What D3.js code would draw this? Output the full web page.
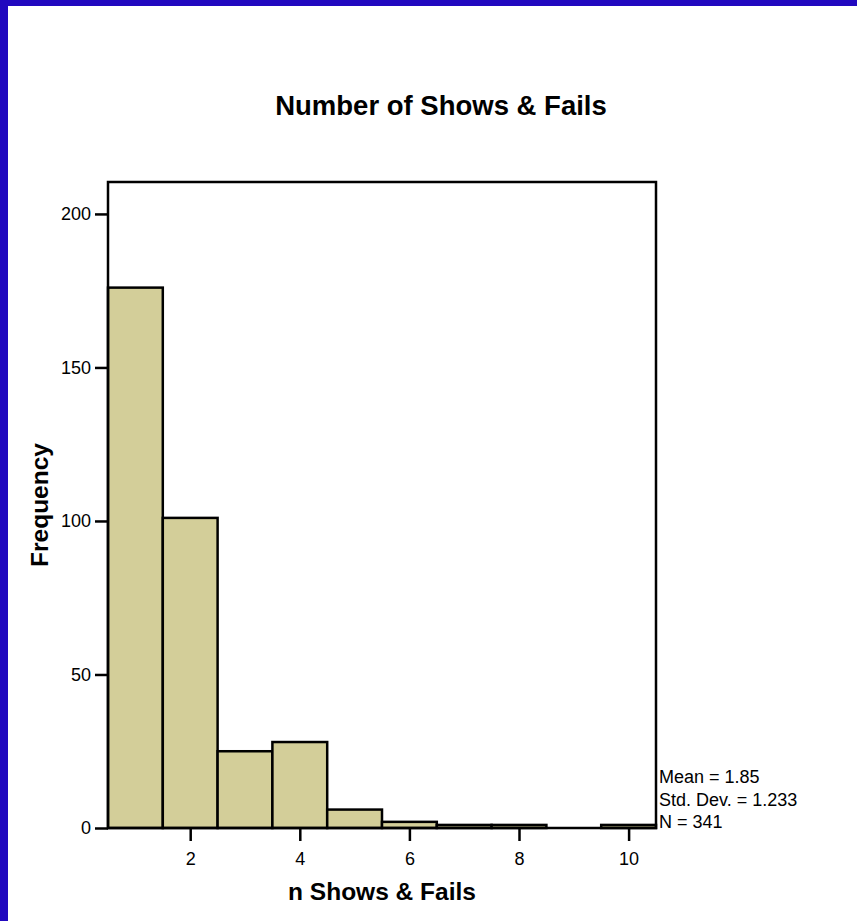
<!DOCTYPE html>
<html>
<head>
<meta charset="utf-8">
<script src="https://cdn.jsdelivr.net/npm/d3@7"></script>
<style>
  body { margin: 0; background: #fff; }
  text { font-family: "Liberation Sans", Arial, sans-serif; fill: #000; }
</style>
</head>
<body>
<svg width="857" height="921"></svg>
<script>
// histogram bins (midpoints) and counts
var binMids = [1, 2, 3, 4, 5, 6, 7, 8, 9, 10];
var counts = [176, 101, 25, 28, 6, 2, 1, 1, 0, 1];
var xTicks = [2, 4, 6, 8, 10];
var yTicks = [0, 50, 100, 150, 200];
var stats = ["Mean = 1.85", "Std. Dev. = 1.233", "N = 341"];

var svg = d3.select("svg");
var margin = {top: 182, right: 201, bottom: 93, left: 108};
var width = +svg.attr("width") - margin.left - margin.right;
var height = +svg.attr("height") - margin.top - margin.bottom;

// blue frame round the page
svg.append("rect").attr("x", 0).attr("y", 0).attr("width", 857).attr("height", 6).attr("fill", "#2108bf");
svg.append("rect").attr("x", 0).attr("y", 0).attr("width", 8).attr("height", 921).attr("fill", "#2108bf");

var g = svg.append("g").attr("transform", "translate(" + margin.left + "," + margin.top + ")");

var x = d3.scaleLinear().domain([0.5, 10.5]).range([0, width]);
var y = d3.scaleLinear().domain([0, 210.4]).range([height, 0]);

g.selectAll(".bar")
    .data(binMids.filter(function(d, i) { return counts[i] > 0; }))
    .enter().append("rect")
    .attr("class", "bar")
    .attr("x", function(d) { return x(d - 0.5); })
    .attr("y", function(d) { return y(counts[binMids.indexOf(d)]); })
    .attr("width", function(d) { return x(d + 0.5) - x(d - 0.5); })
    .attr("height", function(d) { return height - y(counts[binMids.indexOf(d)]); })
    .attr("fill", "#d3ce99")
    .attr("stroke", "#000")
    .attr("stroke-width", 2.5);

// plot frame
g.append("rect")
    .attr("x", 0).attr("y", 0)
    .attr("width", width).attr("height", height)
    .attr("fill", "none")
    .attr("stroke", "#000")
    .attr("stroke-width", 2.5);

var xAxis = g.append("g")
    .attr("transform", "translate(0," + height + ")")
    .call(d3.axisBottom(x).tickValues(xTicks).tickSize(13).tickPadding(11).tickFormat(d3.format("d")));
var yAxis = g.append("g")
    .call(d3.axisLeft(y).tickValues(yTicks).tickSize(13).tickPadding(4).tickFormat(d3.format("d")));

[xAxis, yAxis].forEach(function(a) {
    a.select(".domain").remove();
    a.selectAll(".tick line").attr("stroke", "#000").attr("stroke-width", 2.5);
    a.selectAll(".tick text").attr("font-size", 18).attr("font-family", "'Liberation Sans', Arial, sans-serif");
});

svg.append("text")
    .attr("x", 441).attr("y", 115)
    .attr("text-anchor", "middle")
    .attr("font-size", 27.5).attr("font-weight", "bold")
    .text("Number of Shows & Fails");

svg.append("text")
    .attr("x", margin.left + width / 2).attr("y", 900)
    .attr("text-anchor", "middle")
    .attr("font-size", 24.5).attr("font-weight", "bold")
    .text("n Shows & Fails");

svg.append("text")
    .attr("transform", "translate(48," + (margin.top + height / 2) + ") rotate(-90)")
    .attr("text-anchor", "middle")
    .attr("font-size", 24.5).attr("font-weight", "bold")
    .text("Frequency");

svg.append("g").selectAll("text")
    .data(stats)
    .enter().append("text")
    .attr("x", margin.left + width + 3)
    .attr("y", function(d, i) { return margin.top + height - 45 + i * 22.5; })
    .attr("font-size", 18)
    .text(function(d) { return d; });
</script>
</body>
</html>
